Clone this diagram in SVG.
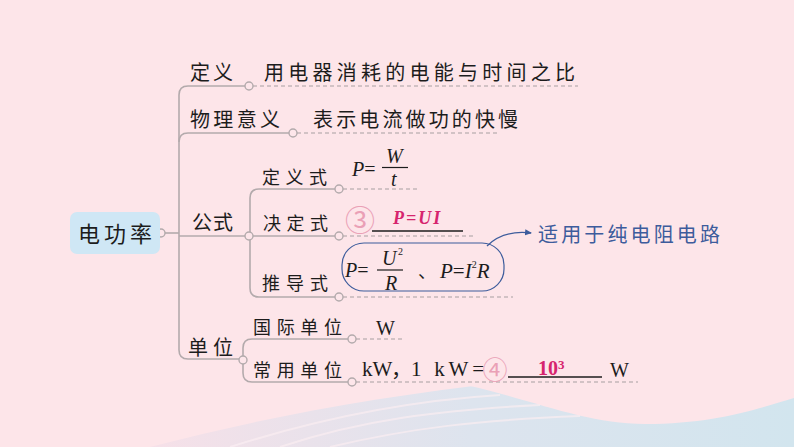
<svg xmlns="http://www.w3.org/2000/svg" width="794" height="447" viewBox="0 0 794 447">
<style>
.cn{font-family:"Noto Sans CJK SC","Noto Sans",sans-serif;fill:#1c1c1c}
.m{font-family:"Liberation Serif","Times New Roman",serif;fill:#1c1c1c}
.i{font-style:italic}
.ln{fill:none;stroke:#b3aaac;stroke-width:1.6}
.ds{fill:none;stroke:#a8a0a2;stroke-width:1.2;stroke-dasharray:4 3}
.dot{fill:#fde6ea;stroke:#b3aaac;stroke-width:1.4}
.red{fill:#d6246e;font-weight:bold}
.circ{font-family:"Noto Sans CJK SC",sans-serif;fill:#eaa0b6}
</style>
<defs>
<linearGradient id="bl" x1="0" y1="0" x2="1" y2="0">
<stop offset="0" stop-color="#f6e0e8"/>
<stop offset="0.5" stop-color="#dde4ee"/>
<stop offset="1" stop-color="#d2e5ee"/>
</linearGradient>
<marker id="ah" markerWidth="8" markerHeight="8" refX="6" refY="4" orient="auto" markerUnits="userSpaceOnUse">
<path d="M0,1 L7,4 L0,7 Z" fill="#3d5c9c"/>
</marker>
</defs>
<rect width="794" height="447" fill="#fde5e9"/>
<path d="M150 447 C 330 400, 520 372, 794 362 L794 447 Z" fill="url(#bl)"/>
<path d="M420 376 C 520 392, 575 424, 645 424 C 715 424, 760 408, 794 398 L794 330 L420 330 Z" fill="#fde5e9"/>
<g fill="none" stroke="#fbeef2" stroke-width="2" opacity="0.7">
<path d="M230 447 C 330 415, 420 400, 500 395"/>
<path d="M280 447 C 360 420, 440 410, 540 405"/>
<path d="M330 447 C 410 428, 480 420, 580 416"/>
</g>

<g id="connectors">
<path class="ln" d="M165 233 H179"/>
<path class="ln" d="M245 86 H188 Q179 86 179 95 V350 Q179 359 188 359 H239"/>
<path class="ln" d="M179 142 Q179 133 188 133 H289"/>
<path class="ln" d="M179 236 H245"/>
<path class="ln" d="M335 189 H259 Q250 189 250 198 V288 Q250 297 259 297 H335"/>
<path class="ln" d="M253 236 H335"/>
<path class="ln" d="M348 339 H252 Q243 339 243 348 V373 Q243 382 252 382 H348"/>
<path class="ds" d="M253 86 H578"/>
<path class="ds" d="M297 133 H500"/>
<path class="ds" d="M343 189 H417"/>
<path class="ds" d="M343 236 H475"/>
<path class="ds" d="M343 297 H513"/>
<path class="ds" d="M356 339 H403"/>
<path class="ds" d="M356 382 H638"/>
<path d="M487 246 C 499 234, 514 231, 531 233" fill="none" stroke="#3d5c9c" stroke-width="1.3" marker-end="url(#ah)"/>
<circle class="dot" cx="161" cy="233" r="4"/>
<circle class="dot" cx="249" cy="86" r="4"/>
<circle class="dot" cx="293" cy="133" r="4"/>
<circle class="dot" cx="249" cy="236" r="4"/>
<circle class="dot" cx="339" cy="189" r="4"/>
<circle class="dot" cx="339" cy="236" r="4"/>
<circle class="dot" cx="339" cy="297" r="4"/>
<circle class="dot" cx="243" cy="360" r="4"/>
<circle class="dot" cx="352" cy="339" r="4"/>
<circle class="dot" cx="352" cy="382" r="4"/>
</g>

<g id="root">
<rect x="70" y="212" width="90" height="42" rx="7" fill="#cfe7f5"/>
<text class="cn" x="78" y="242" font-size="22" textLength="74">电功率</text>
</g>

<g id="n-dingyi">
<text class="cn" x="190" y="80" font-size="20" textLength="43">定义</text>
<text class="cn" x="264" y="80" font-size="20" textLength="311">用电器消耗的电能与时间之比</text>
</g>

<g id="n-yiyi">
<text class="cn" x="190" y="127" font-size="20" textLength="90">物理意义</text>
<text class="cn" x="313" y="127" font-size="20" textLength="205">表示电流做功的快慢</text>
</g>

<g id="n-gongshi">
<text class="cn" x="192" y="230" font-size="20" textLength="41">公式</text>
</g>

<g id="n-dingyishi">
<text class="cn" x="262" y="184" font-size="18" textLength="65">定义式</text>
<text class="m" x="352" y="176" font-size="20"><tspan class="i">P</tspan>=</text>
<text class="m i" x="386" y="163" font-size="20">W</text>
<line x1="382" y1="167.5" x2="408" y2="167.5" stroke="#1c1c1c" stroke-width="1.2"/>
<text class="m i" x="391" y="186" font-size="20">t</text>
</g>

<g id="n-jueding">
<text class="cn" x="263" y="230" font-size="18" textLength="65">决定式</text>
<text class="circ" x="345" y="231" font-size="30">③</text>
<text class="m i red" x="393" y="224" font-size="18" letter-spacing="2">P=UI</text>
<line x1="372" y1="231" x2="463" y2="231" stroke="#1c1c1c" stroke-width="1.3"/>
</g>

<g id="n-tuidao">
<text class="cn" x="262" y="290" font-size="18" textLength="66">推导式</text>
<rect x="342" y="243" width="162" height="48" rx="22" fill="none" stroke="#3d5c9c" stroke-width="1.2"/>
<text class="m" x="345" y="277" font-size="20"><tspan class="i">P</tspan>=</text>
<text class="m i" x="382" y="265" font-size="20">U</text>
<text class="m" x="398" y="255" font-size="10">2</text>
<line x1="377" y1="270" x2="403" y2="270" stroke="#1c1c1c" stroke-width="1.2"/>
<text class="m i" x="385" y="290" font-size="20">R</text>
<text class="cn" x="418" y="278" font-size="18">、</text>
<text class="m" x="440" y="278" font-size="21"><tspan class="i">P</tspan>=<tspan class="i">I</tspan><tspan font-size="10" dy="-10">2</tspan><tspan class="i" dy="10">R</tspan></text>
</g>

<g id="n-note">
<text class="cn" x="538" y="242" font-size="20" textLength="182" style="fill:#3d5c9c">适用于纯电阻电路</text>
</g>

<g id="n-danwei">
<text class="cn" x="188" y="355" font-size="20" textLength="45">单位</text>
</g>

<g id="n-guoji">
<text class="cn" x="253" y="334" font-size="18" textLength="89">国际单位</text>
<text class="m" x="376" y="335" font-size="20">W</text>
</g>

<g id="n-changyong">
<text class="cn" x="253" y="377" font-size="18" textLength="89">常用单位</text>
<text class="m" x="362" y="376" font-size="21">kW<tspan x="391" style="font-family:'Noto Sans CJK SC',sans-serif">，</tspan></text>
<text class="m" x="411" y="376" font-size="21" textLength="73">1 kW=</text>
<text class="circ" x="482.5" y="379" font-size="25">④</text>
<line x1="508" y1="377" x2="602" y2="377" stroke="#1c1c1c" stroke-width="1.3"/>
<text class="m red" x="538" y="375" font-size="20">10<tspan font-size="13" dy="-6">3</tspan></text>
<text class="m" x="610" y="377" font-size="20">W</text>
</g>
</svg>
